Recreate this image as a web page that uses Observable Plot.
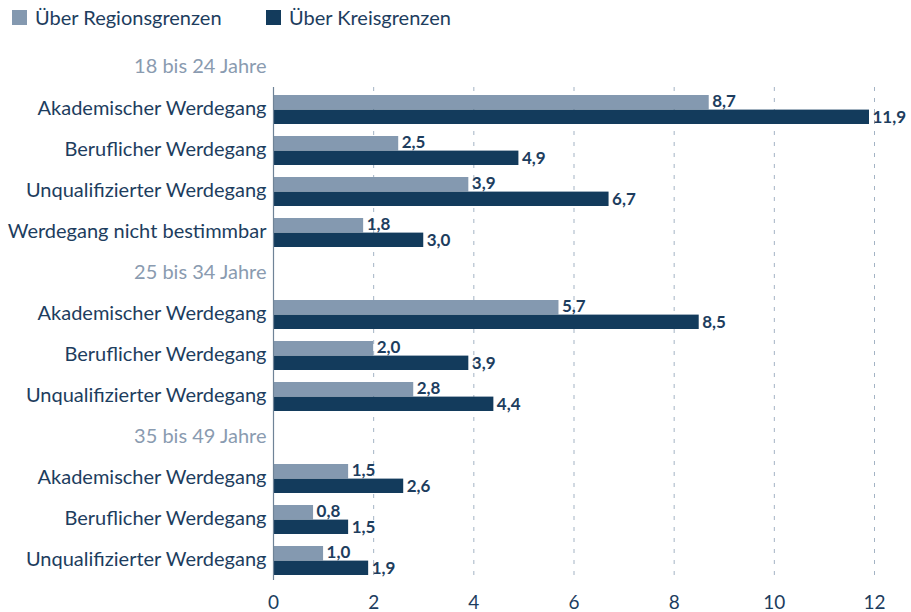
<!DOCTYPE html>
<html>
<head>
<meta charset="utf-8">
<script src="https://cdn.jsdelivr.net/npm/d3@7"></script>
<script src="https://cdn.jsdelivr.net/npm/@observablehq/plot@0.6"></script>
<style>
  html, body { margin: 0; padding: 0; background: #fff; }
  body { width: 911px; height: 612px; overflow: hidden; font-family: Lato, sans-serif; }
  #legend { height: 36px; position: relative; font-size: 20px; color: #1d3d5e; }
  .item { position: absolute; top: 5px; display: flex; align-items: center; line-height: 24px; }
  .sw { width: 15px; height: 15px; margin-right: 8px; display: inline-block; }
</style>
</head>
<body>
<div id="legend"></div>
<div id="chart"></div>
<script>
const seriesNames = ["Über Regionsgrenzen", "Über Kreisgrenzen"];
const seriesColors = ["#8499b0", "#133b5c"];
const groups = ["18 bis 24 Jahre", "25 bis 34 Jahre", "35 bis 49 Jahre"];
const rowGroup = [0, 0, 0, 0, 1, 1, 1, 2, 2, 2];
const rowCategory = [
  "Akademischer Werdegang", "Beruflicher Werdegang", "Unqualifizierter Werdegang", "Werdegang nicht bestimmbar",
  "Akademischer Werdegang", "Beruflicher Werdegang", "Unqualifizierter Werdegang",
  "Akademischer Werdegang", "Beruflicher Werdegang", "Unqualifizierter Werdegang"
];
const regionValues = [8.7, 2.5, 3.9, 1.8, 5.7, 2.0, 2.8, 1.5, 0.8, 1.0];
const kreisValues = [11.9, 4.9, 6.7, 3.0, 8.5, 3.9, 4.4, 2.6, 1.5, 1.9];
const xTicks = [0, 2, 4, 6, 8, 10, 12];

const textColor = "#1d3d5e";
const headerColor = "#8a9bb0";

// Build rows
const rows = rowCategory.map((c, i) => ({
  key: groups[rowGroup[i]] + "|" + c,
  label: c,
  region: regionValues[i],
  kreis: kreisValues[i]
}));
const domain = [];
const labels = [];
rows.forEach((r, i) => {
  const g = rowGroup[i];
  if (i > 0 && rowGroup[i - 1] !== g) {
    domain.push("H|" + groups[g]);
    labels.push({key: "H|" + groups[g], label: groups[g], header: true});
  }
  domain.push(r.key);
  labels.push({key: r.key, label: r.label, header: false});
});

const fmt = v => d3.format(".1f")(v).replace(".", ",");

// Legend
const legend = document.getElementById("legend");
const lx = [12, 266];
seriesNames.forEach((n, i) => {
  const d = document.createElement("div");
  d.className = "item";
  d.style.left = lx[i] + "px";
  d.innerHTML = `<span class="sw" style="background:${seriesColors[i]}"></span><span>${n}</span>`;
  legend.appendChild(d);
});

const half = 20.6, outer = 6;
const chart = Plot.plot({
  width: 911,
  height: 576,
  marginTop: 51,
  marginBottom: 30,
  marginLeft: 273,
  marginRight: 37,
  style: {fontFamily: 'Lato, sans-serif', fontSize: "18px", color: textColor, background: "#fff"},
  x: {domain: [0, 12], axis: null},
  y: {domain, axis: null, padding: 0},
  marks: [
    Plot.ruleX(xTicks.filter(t => t > 0), {stroke: "#a3b3c4", strokeDasharray: "4,7", strokeWidth: 1, insetBottom: 2}),
    Plot.barX(rows, {x: "region", y: "key", fill: seriesColors[0], insetTop: outer, insetBottom: half}),
    Plot.barX(rows, {x: "kreis", y: "key", fill: seriesColors[1], insetTop: half, insetBottom: outer}),
    Plot.ruleX([0], {stroke: "#6f8397", strokeWidth: 1.2, insetBottom: 2}),
    Plot.text(rows, {x: "region", y: "key", text: d => fmt(d.region), dx: 3, dy: -8, textAnchor: "start", fill: textColor, fontWeight: "bold", fontSize: 17}),
    Plot.text(rows, {x: "kreis", y: "key", text: d => fmt(d.kreis), dx: 3, dy: 8, textAnchor: "start", fill: textColor, fontWeight: "bold", fontSize: 17}),
    Plot.text(labels, {x: () => 0, y: "key", text: "label", dx: -7, dy: -1, textAnchor: "end", fill: d => d.header ? headerColor : textColor, fontSize: 20}),
    Plot.text([{label: groups[0], v: 0}], {x: "v", text: "label", frameAnchor: "top", dx: -7, dy: -29, textAnchor: "end", fill: headerColor, fontSize: 20}),
    Plot.axisX(xTicks, {tickSize: 0, tickPadding: 13, fontSize: 19, fill: textColor})
  ]
});
document.getElementById("chart").appendChild(chart);
</script>
</body>
</html>
